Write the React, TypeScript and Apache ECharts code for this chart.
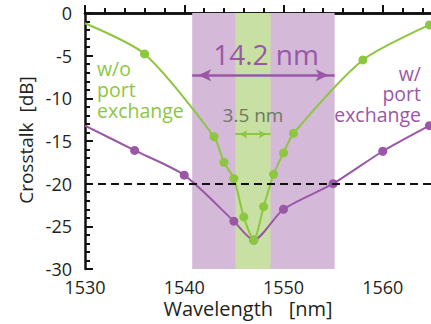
import React, { useEffect, useRef } from "react";
import * as echarts from "echarts";

const greenX = [1530, 1536, 1543, 1544, 1545, 1546, 1547, 1548, 1549, 1550, 1551, 1558, 1564.7];
const greenY = [-1.2, -4.8, -14.5, -17.5, -19.4, -23.9, -26.6, -22.7, -18.9, -16.4, -14.1, -5.5, -1.4];
const purpleX = [1530, 1535, 1540, 1545, 1547, 1550, 1555, 1560, 1564.7];
const purpleY = [-13.2, -16.1, -19.0, -24.4, -26.6, -23.0, -20.0, -16.2, -13.2];
const purpleBand = [1540.8, 1555.15];
const greenBand = [1545.15, 1548.7];
const purpleArrowY = -7.3;
const greenArrowY = -14.2;
const thresholdY = -20;
const xTicks = { min: 1530, max: 1570, interval: 10 };
const yTicks = { min: -30, max: 0, interval: 5 };

const GREEN = "#8dc63f";
const PURPLE = "#9a57a8";
const FONT = "Open Sans";

export default function App() {
  const ref = useRef<HTMLDivElement>(null);
  useEffect(() => {
    if (!ref.current) return;
    const chart = echarts.init(ref.current, undefined, { renderer: "svg" });
    const toPts = (xs: number[], ys: number[]) =>
      xs.map((x, i) => (i === 0 ? { value: [x, ys[i]], symbol: "none" } : { value: [x, ys[i]] }));
    const axisCommon = {
      type: "value" as const,
      axisLine: { show: true, lineStyle: { color: "#111", width: 2.5 } },
      axisTick: { show: true, inside: true, length: 8, lineStyle: { color: "#111", width: 2 } },
      minorTick: { show: true, splitNumber: 5, length: 5, lineStyle: { color: "#111", width: 2 } },
      splitLine: { show: false },
      axisLabel: { fontFamily: FONT, fontSize: 18, color: "#231f20" },
    };
    chart.setOption({
      animation: false,
      grid: { left: 85, top: 13, right: 1, bottom: 55, outerBoundsMode: "none", containLabel: false },
      xAxis: [
        {
          ...axisCommon,
          ...xTicks,
          position: "bottom",
          axisLabel: {
            ...axisCommon.axisLabel,
            margin: 9,
            formatter: (v: number) => (v > 1565 ? "" : String(v)),
          },
        },
        {
          type: "value",
          ...xTicks,
          position: "top",
          axisLine: { show: true, lineStyle: { color: "#111", width: 2.5 } },
          axisTick: { show: false },
          axisLabel: { show: false },
          splitLine: { show: false },
        },
      ],
      yAxis: { ...axisCommon, ...yTicks, axisLabel: { ...axisCommon.axisLabel, margin: 13 } },
      series: [
        {
          type: "line",
          data: [],
          z: 1,
          silent: true,
          markArea: {
            silent: true,
            itemStyle: { opacity: 1 },
            data: [
              [{ xAxis: purpleBand[0], itemStyle: { color: "#d4b9d9" } }, { xAxis: purpleBand[1] }],
              [{ xAxis: greenBand[0], itemStyle: { color: "#c9e0a4" } }, { xAxis: greenBand[1] }],
            ],
          },
          markLine: {
            silent: true,
            symbol: "none",
            label: { show: false },
            lineStyle: { color: "#111", width: 2, type: [8, 5] },
            data: [{ yAxis: thresholdY }],
          },
        },
        {
          type: "line",
          data: [],
          z: 4,
          silent: true,
          markLine: {
            silent: true,
            label: { show: false },
            data: [
              [
                { coord: [purpleBand[0], purpleArrowY], symbol: "arrow", symbolSize: [9, 13], symbolOffset: [0, 6], lineStyle: { color: PURPLE, width: 2.5, type: "solid" } },
                { coord: [purpleBand[1], purpleArrowY], symbol: "arrow", symbolSize: [9, 13], symbolOffset: [0, 6] },
              ],
              [
                { coord: [greenBand[0], greenArrowY], symbol: "arrow", symbolSize: [6, 8], symbolOffset: [0, 4], lineStyle: { color: GREEN, width: 2, type: "solid" } },
                { coord: [greenBand[1], greenArrowY], symbol: "arrow", symbolSize: [6, 8], symbolOffset: [0, 4] },
              ],
            ],
          },
        },
        {
          type: "line",
          data: toPts(purpleX, purpleY),
          z: 2,
          smooth: 0.25,
          symbol: "circle",
          symbolSize: 9,
          color: PURPLE,
          lineStyle: { color: PURPLE, width: 2 },
          itemStyle: { color: PURPLE },
        },
        {
          type: "line",
          data: toPts(greenX, greenY),
          z: 3,
          smooth: 0.25,
          symbol: "circle",
          symbolSize: 9,
          color: GREEN,
          lineStyle: { color: GREEN, width: 2 },
          itemStyle: { color: GREEN },
        },
      ],
      graphic: [
        { type: "text", x: 26, y: 140, rotation: Math.PI / 2, style: { text: "Crosstalk  [dB]", fontFamily: FONT, fontSize: 19, fill: "#231f20", align: "center", verticalAlign: "middle" } },
        { type: "text", x: 248, y: 308, style: { text: "Wavelength   [nm]", fontFamily: FONT, fontSize: 20, fill: "#231f20", align: "center", verticalAlign: "middle" } },
        { type: "text", x: 266, y: 54, z: 10, style: { text: "14.2 nm", fontFamily: FONT, fontSize: 28, fill: PURPLE, align: "center", verticalAlign: "middle" } },
        { type: "text", x: 253, y: 115, z: 10, style: { text: "3.5 nm", fontFamily: FONT, fontSize: 19, fill: "#6e7862", align: "center", verticalAlign: "middle" } },
        { type: "text", x: 97, y: 57.5, z: 10, style: { text: "w/o\nport\nexchange", fontFamily: FONT, fontSize: 19.5, lineHeight: 21, fill: GREEN, align: "left", verticalAlign: "top" } },
        { type: "text", x: 421, y: 63, z: 10, style: { text: "w/\nport\nexchange", fontFamily: FONT, fontSize: 19.5, lineHeight: 20.5, fill: PURPLE, align: "right", verticalAlign: "top" } },
      ],
    });
    return () => chart.dispose();
  }, []);
  return (
    <div style={{ position: "fixed", left: 0, top: 0, width: 431, height: 324, overflow: "hidden", background: "#fff" }}>
      <div ref={ref} style={{ position: "absolute", left: 0, top: 0, width: 483, height: 324 }} />
    </div>
  );
}
